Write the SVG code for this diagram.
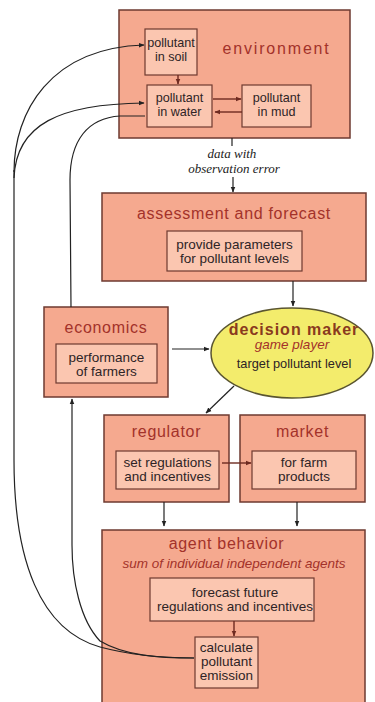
<svg xmlns="http://www.w3.org/2000/svg" width="375" height="702" viewBox="0 0 375 702">
<defs>
<marker id="ah" viewBox="0 0 10 10" refX="9" refY="5" markerWidth="6" markerHeight="6" orient="auto" markerUnits="userSpaceOnUse"><path d="M0,1 L10,5 L0,9 Z" fill="#222"/></marker>
<marker id="ahr" viewBox="0 0 10 10" refX="9" refY="5" markerWidth="6" markerHeight="6" orient="auto" markerUnits="userSpaceOnUse"><path d="M0,1 L10,5 L0,9 Z" fill="#6e2a20"/></marker>
<style>
.outer{fill:#f5a98f;stroke:#6e3a30;stroke-width:1.5}
.inner{fill:#fbc6b0;stroke:#6e3a30;stroke-width:1.2}
.title{font-family:"Liberation Sans",Arial,sans-serif;font-size:16px;fill:#a3322a;text-anchor:middle;letter-spacing:0.7px}
.sub{font-family:"Liberation Sans",Arial,sans-serif;font-size:13.5px;font-style:italic;fill:#a3322a;text-anchor:middle}
.body{font-family:"Liberation Sans",Arial,sans-serif;font-size:13.5px;fill:#2e2426;text-anchor:middle}
.env{font-size:12.6px}
.note{font-family:"Liberation Serif","Times New Roman",serif;font-size:13px;font-style:italic;fill:#222;text-anchor:middle}
.c{fill:none;stroke:#222;stroke-width:1.2}
.cr{fill:none;stroke:#6e2a20;stroke-width:1.4}
</style>
</defs>
<rect width="375" height="702" fill="#ffffff"/>

<g id="environment">
<rect class="outer" x="119" y="10" width="231" height="128"/>
<text class="title" x="276" y="54" textLength="107" lengthAdjust="spacing">environment</text>
</g>
<g id="soil">
<rect class="inner" x="145" y="29" width="52" height="46"/>
<text class="body env" x="171" y="47">pollutant</text>
<text class="body env" x="171" y="61">in soil</text>
</g>
<g id="water">
<rect class="inner" x="147" y="85" width="65" height="42"/>
<text class="body env" x="179.5" y="102">pollutant</text>
<text class="body env" x="179.5" y="116">in water</text>
</g>
<g id="mud">
<rect class="inner" x="242" y="85" width="69" height="42"/>
<text class="body env" x="276.5" y="102">pollutant</text>
<text class="body env" x="276.5" y="116">in mud</text>
</g>

<g id="assessment">
<rect class="outer" x="102" y="193" width="264" height="88"/>
<text class="title" x="234" y="219">assessment and forecast</text>
<rect class="inner" x="167" y="231" width="135" height="40"/>
<text class="body" x="234.5" y="249">provide parameters</text>
<text class="body" x="234.5" y="263">for pollutant levels</text>
</g>

<g id="economics">
<rect class="outer" x="44" y="307" width="124" height="90"/>
<text class="title" x="106" y="333">economics</text>
<rect class="inner" x="56" y="344" width="101" height="39"/>
<text class="body" x="106.5" y="362">performance</text>
<text class="body" x="106.5" y="376">of farmers</text>
</g>

<g id="decision">
<ellipse cx="292" cy="353" rx="81" ry="45" fill="#f3ec6c" stroke="#5a5530" stroke-width="1.5"/>
<text class="title" x="294" y="335" style="fill:#8a3a1e;font-weight:bold;letter-spacing:1px">decision maker</text>
<text class="sub" x="292" y="349">game player</text>
<text class="body" x="294" y="368" style="font-size:12.8px">target pollutant level</text>
</g>

<g id="regulator">
<rect class="outer" x="104" y="415" width="125" height="87"/>
<text class="title" x="166.5" y="437">regulator</text>
<rect class="inner" x="116" y="451" width="103" height="38"/>
<text class="body" x="167.5" y="467">set regulations</text>
<text class="body" x="167.5" y="481">and incentives</text>
</g>

<g id="market">
<rect class="outer" x="240" y="415" width="125" height="87"/>
<text class="title" x="302.5" y="437">market</text>
<rect class="inner" x="252" y="451" width="104" height="38"/>
<text class="body" x="304" y="467">for farm</text>
<text class="body" x="304" y="481">products</text>
</g>

<g id="agent">
<rect class="outer" x="102" y="530" width="263" height="180"/>
<text class="title" x="226.5" y="549">agent behavior</text>
<text class="sub" x="234" y="568">sum of individual independent agents</text>
</g>
<g id="forecast">
<rect class="inner" x="150" y="578" width="164" height="43"/>
<text class="body" x="235" y="597">forecast future</text>
<text class="body" x="235" y="611">regulations and incentives</text>
</g>
<g id="calculate">
<rect class="inner" x="195" y="637" width="63" height="51"/>
<text class="body" x="226.5" y="652">calculate</text>
<text class="body" x="226.5" y="666">pollutant</text>
<text class="body" x="226.5" y="680">emission</text>
</g>

<g id="connectors">
<path class="cr" d="M178,75 L178,84" marker-end="url(#ahr)"/>
<path class="cr" d="M213,99 L241,99" marker-end="url(#ahr)"/>
<path class="cr" d="M242,112 L215,112" marker-end="url(#ahr)"/>
<path class="c" d="M232,138 L232,146"/>
<text class="note" x="232" y="158">data with</text>
<text class="note" x="234" y="173">observation error</text>
<path class="c" d="M233,177 L233,192" marker-end="url(#ah)"/>
<path class="c" d="M293,281 L293,306" marker-end="url(#ah)"/>
<path class="c" d="M172,349 L209,349" marker-end="url(#ah)"/>
<path class="c" d="M234,386 L206,413" marker-end="url(#ah)"/>
<path class="cr" d="M222,463 L251,463" marker-end="url(#ahr)"/>
<path class="c" d="M164,502 L164,526" marker-end="url(#ah)"/>
<path class="c" d="M297,502 L297,526" marker-end="url(#ah)"/>
<path class="cr" d="M234,621 L234,636" marker-end="url(#ahr)"/>
<path class="c" d="M14,172 C14,112 50,48 144,45" marker-end="url(#ah)"/>
<path class="c" d="M14,178 C16,124 60,104 144,103" marker-end="url(#ah)"/>
<path class="c" d="M145,116 L120,116 C88,118 70,140 70,180 L71,307"/>
<path class="c" d="M14,170 L14,460 C14,560 40,630 100,647 C130,655 165,658 194,658"/>
<path class="c" d="M194,658 C160,658 125,656 100,641 C80,620 72,580 72,545 L72,399" marker-end="url(#ah)"/>
</g>
</svg>
